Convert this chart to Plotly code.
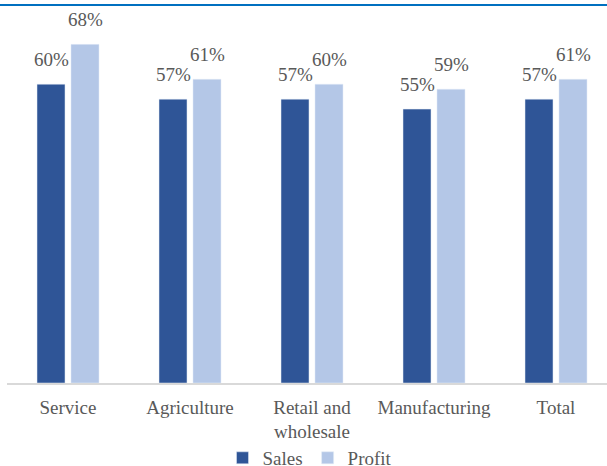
import plotly.graph_objects as go

categories = ["Service", "Agriculture", "Retail and<br>wholesale", "Manufacturing", "Total"]
sales = [0.60, 0.57, 0.57, 0.55, 0.57]
profit = [0.68, 0.61, 0.60, 0.59, 0.61]

SALES_COLOR = "#2F5597"
PROFIT_COLOR = "#B4C7E7"
TEXT_COLOR = "#595959"
FONT = "Liberation Serif"

W, H = 607, 466
ML, MR, MT, MB = 7, 0, 10, 83
plot_h = H - MT - MB
CAT_PX = 122.0
SLOT_PX = 17

fig = go.Figure()
for name, vals, col in [("Sales", sales, SALES_COLOR), ("Profit", profit, PROFIT_COLOR)]:
    fig.add_trace(go.Bar(name=name, x=list(range(len(categories))), y=vals, marker_color=col,
                         hoverinfo="skip"))

annotations = []
for vals, sign in [(sales, -1), (profit, 1)]:
    for i, v in enumerate(vals):
        annotations.append(dict(x=i, y=v, xref="x", yref="y", text=f"{round(v*100)}%",
                                showarrow=False, yanchor="bottom", xanchor="center",
                                xshift=sign * SLOT_PX, yshift=12,
                                font=dict(family=FONT, size=19, color=TEXT_COLOR)))

fig.update_layout(
    width=W, height=H,
    margin=dict(l=ML, r=MR, t=MT, b=MB, autoexpand=False),
    paper_bgcolor="white", plot_bgcolor="white",
    barmode="group", bargap=0.443, bargroupgap=0.176,
    font=dict(family=FONT, size=19, color=TEXT_COLOR),
    showlegend=True,
    legend=dict(orientation="h", x=0.505, xanchor="center", y=-0.15, yanchor="top",
                font=dict(family=FONT, size=19, color=TEXT_COLOR),
                itemwidth=30, traceorder="normal", bgcolor="rgba(0,0,0,0)"),
    xaxis=dict(range=[-0.5, -0.5 + (W - ML - MR) / CAT_PX], showgrid=False, zeroline=False,
               tickmode="array", tickvals=list(range(len(categories))), ticktext=categories,
               showline=True, linecolor="#D9D9D9", linewidth=1.5, ticks="",
               ticklabelstandoff=6,
               tickfont=dict(family=FONT, size=19, color=TEXT_COLOR)),
    yaxis=dict(range=[0, plot_h / 498.0], visible=False, showgrid=False, zeroline=False),
    annotations=annotations,
    shapes=[dict(type="line", xref="paper", yref="paper",
                 x0=-ML / (W - ML - MR), x1=1.0,
                 y0=(H - MB - 5) / plot_h, y1=(H - MB - 5) / plot_h,
                 line=dict(color="#0070C0", width=2))],
)

fig.write_html("out.html", config={"displayModeBar": False},
               post_script="document.body.style.margin='0px';")
